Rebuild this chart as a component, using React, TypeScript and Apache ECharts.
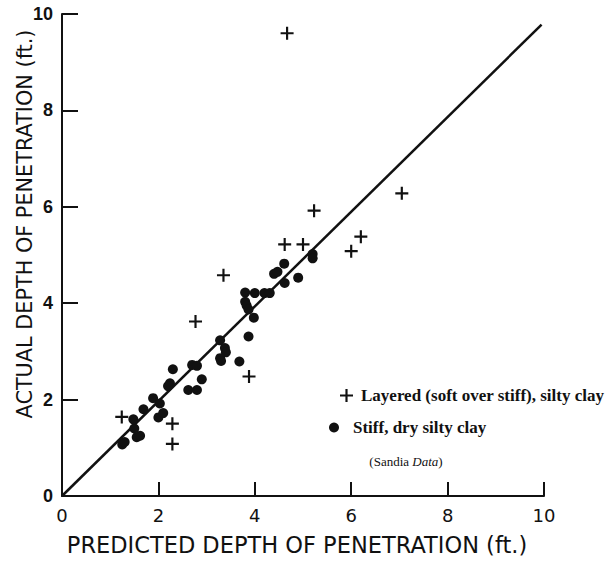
import React, { useEffect, useRef } from "react";
import * as echarts from "echarts";

// Predicted vs. actual penetration depth (ft.)
const layeredName = "Layered (soft over stiff), silty clay";
const stiffName = "Stiff, dry silty clay";

const layeredPoints: number[][] = [
  [1.24, 1.64], [2.29, 1.5], [2.29, 1.08], [2.77, 3.62], [3.88, 2.48],
  [3.35, 4.58], [4.62, 5.22], [5.0, 5.22], [5.23, 5.92], [6.0, 5.08],
  [6.2, 5.38], [7.05, 6.28], [4.67, 9.6],
];

const stiffPoints: number[][] = [
  [1.25, 1.07], [1.3, 1.12], [1.55, 1.22], [1.62, 1.25], [1.5, 1.4],
  [1.48, 1.59], [1.69, 1.8], [1.89, 2.03], [2.03, 1.92], [2.0, 1.63],
  [2.1, 1.72], [2.24, 2.34], [2.2, 2.28], [2.3, 2.63], [2.62, 2.2],
  [2.8, 2.2], [2.9, 2.42], [2.7, 2.72], [2.8, 2.7], [3.28, 3.23],
  [3.38, 3.07], [3.4, 2.98], [3.28, 2.86], [3.3, 2.8], [3.68, 2.79],
  [3.87, 3.31], [3.98, 3.7], [3.8, 4.22], [4.0, 4.21], [4.2, 4.21],
  [4.31, 4.21], [3.8, 4.03], [3.83, 3.95], [3.87, 3.87], [4.4, 4.61],
  [4.47, 4.65], [4.61, 4.82], [4.62, 4.42], [4.9, 4.53], [5.2, 5.02],
  [5.2, 4.93],
];

// Line of equality (predicted = actual)
const equalityLine: number[][] = [[0, 0], [9.95, 9.78]];

const axisTicks = [0, 2, 4, 6, 8, 10];

const plusSymbol = "path://M5,0H7V5H12V7H7V12H5V7H0V5H5Z";

export default function App() {
  const ref = useRef<HTMLDivElement>(null);

  useEffect(() => {
    document.body.style.margin = "0";
    if (!ref.current) return;
    const chart = echarts.init(ref.current, null, { renderer: "svg" });
    const sans = "DejaVu Sans";
    const serif = "Liberation Serif";
    chart.setOption({
      animation: false,
      backgroundColor: "#ffffff",
      grid: { left: 62, right: 70, top: 14, bottom: 66, containLabel: false },
      xAxis: {
        type: "value",
        min: axisTicks[0],
        max: axisTicks[axisTicks.length - 1],
        interval: 2,
        axisLine: { lineStyle: { color: "#111", width: 2 } },
        axisTick: { inside: true, length: 14, lineStyle: { color: "#111", width: 2 } },
        axisLabel: { margin: 10, fontFamily: sans, fontSize: 18, color: "#111" },
        splitLine: { show: false },
      },
      yAxis: {
        type: "value",
        min: axisTicks[0],
        max: axisTicks[axisTicks.length - 1],
        interval: 2,
        axisLine: { lineStyle: { color: "#111", width: 2 } },
        axisTick: { inside: true, length: 16, lineStyle: { color: "#111", width: 2 } },
        axisLabel: {
          margin: 9,
          fontFamily: "Liberation Sans",
          fontWeight: "bold",
          fontSize: 18,
          color: "#111",
        },
        splitLine: { show: false },
      },
      legend: [
        {
          data: [{ name: layeredName, icon: plusSymbol }],
          left: 335,
          top: 382,
          itemWidth: 13,
          itemHeight: 13,
          selectedMode: false,
          textStyle: {
            fontFamily: serif,
            fontWeight: "bold",
            fontSize: 17,
            color: "#111",
            padding: [0, 0, 0, 3],
          },
          itemStyle: { color: "#111" },
        },
        {
          data: [{ name: stiffName, icon: "circle" }],
          left: 324,
          top: 414,
          itemWidth: 24,
          itemHeight: 10,
          selectedMode: false,
          textStyle: {
            fontFamily: serif,
            fontWeight: "bold",
            fontSize: 17,
            color: "#111",
            padding: [0, 0, 0, 2],
          },
          itemStyle: { color: "#111" },
        },
      ],
      graphic: [
        {
          type: "text",
          x: 25,
          y: 224,
          rotation: Math.PI / 2,
          style: {
            text: "ACTUAL DEPTH OF PENETRATION (ft.)",
            fontFamily: sans,
            fontSize: 20.8,
            fill: "#111",
            align: "center",
            verticalAlign: "middle",
          },
        },
        {
          type: "text",
          x: 297,
          y: 545,
          style: {
            text: "PREDICTED DEPTH OF PENETRATION (ft.)",
            fontFamily: sans,
            fontSize: 22.5,
            fill: "#111",
            align: "center",
            verticalAlign: "middle",
          },
        },
        {
          type: "text",
          x: 406,
          y: 461,
          style: {
            text: "(Sandia {i|Data})",
            fontFamily: serif,
            fontSize: 13,
            fill: "#111",
            align: "center",
            verticalAlign: "middle",
            rich: {
              i: { fontFamily: serif, fontSize: 13, fontStyle: "italic", fill: "#111" },
            },
          },
        },
      ],
      series: [
        {
          type: "line",
          data: equalityLine,
          symbol: "none",
          lineStyle: { color: "#111", width: 2.5 },
          silent: true,
          z: 1,
        },
        {
          name: layeredName,
          type: "scatter",
          data: layeredPoints,
          symbol: plusSymbol,
          symbolSize: 13,
          itemStyle: { color: "#111", opacity: 1 },
          z: 3,
        },
        {
          name: stiffName,
          type: "scatter",
          data: stiffPoints,
          symbol: "circle",
          symbolSize: 10,
          itemStyle: { color: "#111", opacity: 1 },
          z: 2,
        },
      ],
    });
    return () => chart.dispose();
  }, []);

  return <div ref={ref} style={{ width: 614, height: 562 }} />;
}
